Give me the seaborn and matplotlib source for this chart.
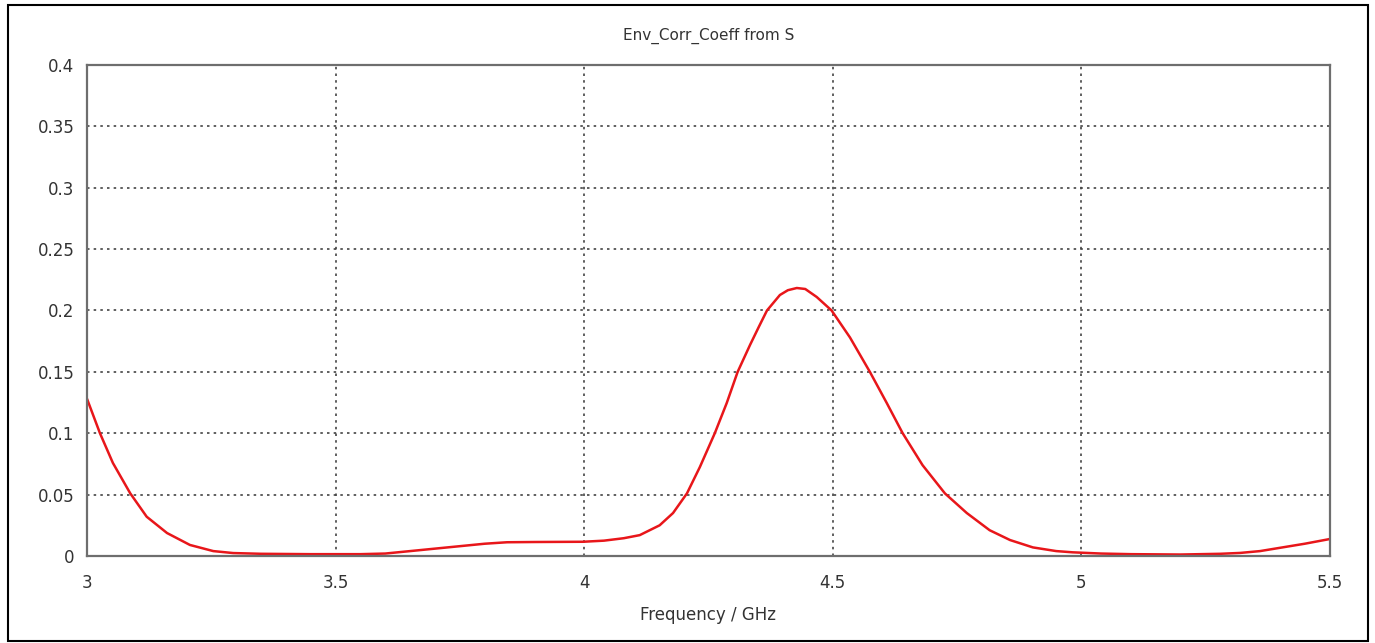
"""Envelope correlation coefficient vs frequency."""

import numpy as np
import pandas as pd
import seaborn as sns
import matplotlib.pyplot as plt
from matplotlib.patches import Rectangle

# values
freq = [3.0, 3.013, 3.026, 3.052, 3.087, 3.12, 3.161, 3.207, 3.254, 3.294,
        3.35, 3.45, 3.55, 3.6, 3.65, 3.7, 3.75, 3.8, 3.845, 3.9, 3.95, 3.998,
        4.04, 4.08, 4.112, 4.152, 4.179, 4.207, 4.233, 4.263, 4.287, 4.309,
        4.334, 4.352, 4.368, 4.394, 4.41, 4.428, 4.445, 4.468, 4.498, 4.535,
        4.575, 4.609, 4.641, 4.681, 4.726, 4.770, 4.816, 4.857, 4.903, 4.95,
        4.983, 5.04, 5.1, 5.2, 5.28, 5.32, 5.36, 5.405, 5.45, 5.5]
ecc = [0.128, 0.114, 0.100, 0.0758, 0.051, 0.032, 0.0187, 0.009, 0.004, 0.0024,
       0.0018, 0.0015, 0.0015, 0.002, 0.004, 0.006, 0.008, 0.010, 0.0112, 0.0114,
       0.0115, 0.0116, 0.0125, 0.0145, 0.017, 0.025, 0.035, 0.051, 0.0725, 0.100,
       0.1246, 0.150, 0.172, 0.187, 0.200, 0.2126, 0.2165, 0.2183, 0.2175, 0.211,
       0.200, 0.178, 0.150, 0.1246, 0.100, 0.074, 0.051, 0.035, 0.021, 0.013,
       0.007, 0.004, 0.003, 0.002, 0.0015, 0.0012, 0.0018, 0.0025, 0.004, 0.007,
       0.010, 0.0138]

xticks = [3, 3.5, 4, 4.5, 5, 5.5]
xticklabels = ['3', '3.5', '4', '4.5', '5', '5.5']
yticks = [0, 0.05, 0.1, 0.15, 0.2, 0.25, 0.3, 0.35, 0.4]
yticklabels = ['0', '0.05', '0.1', '0.15', '0.2', '0.25', '0.3', '0.35', '0.4']

###################################################################################################

sns.set_style("white")
plt.rcParams['font.family'] = ['DejaVu Sans']

df = pd.DataFrame({'freq': freq, 'ecc': ecc})

fig = plt.figure(figsize=[13.75, 6.43], dpi=100)
ax = fig.add_axes([0.0633, 0.1353, 0.9037, 0.7637])

sns.lineplot(data=df, x='freq', y='ecc', color='#e8161a', linewidth=1.8, ax=ax)

ax.set_xlim(3, 5.5)
ax.set_ylim(0, 0.4)
ax.set_xticks(xticks)
ax.set_xticklabels(xticklabels)
ax.set_yticks(yticks)
ax.set_yticklabels(yticklabels)

ax.grid(True, color='#444444', linestyle=(0, (1.5, 2.5)), linewidth=1.2)
for s in ax.spines.values():
    s.set_color('#6e6e6e')
    s.set_linewidth(1.6)
ax.tick_params(axis='both', direction='out', length=5, width=1.2, color='#6e6e6e',
               labelsize=12, labelcolor='#333333', pad=4)
ax.tick_params(axis='x', pad=8)

ax.set_xlabel('Frequency / GHz', fontsize=12, color='#333333', labelpad=10)
ax.set_ylabel('')
ax.set_title('Env_Corr_Coeff from S', fontsize=11, color='#333333', pad=18)

# outer frame
fig.patches.append(Rectangle((8 / 1375, 2 / 643), 1360 / 1375, 636 / 643,
                             transform=fig.transFigure, fill=False,
                             edgecolor='black', linewidth=1.5))

fig.savefig('out.png', dpi=100)
